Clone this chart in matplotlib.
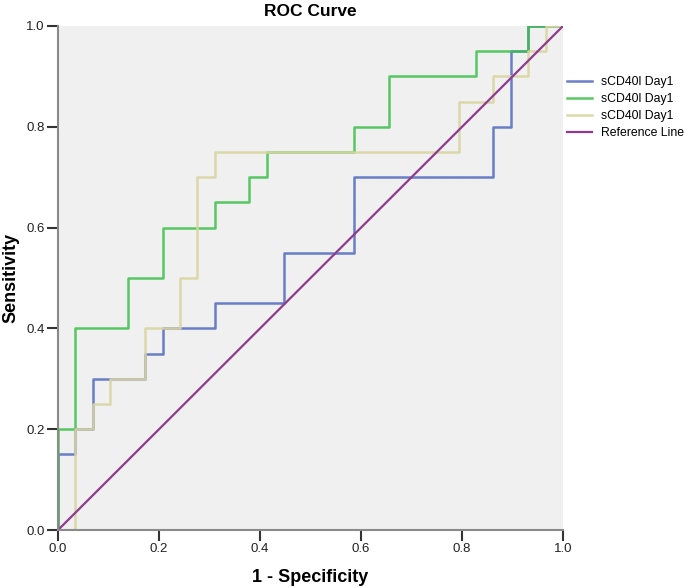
import matplotlib
matplotlib.use("Agg")
import matplotlib.pyplot as plt

plt.rcParams['font.family'] = ['Liberation Sans', 'DejaVu Sans']

# ROC points (1 - specificity, sensitivity)
fpr_blue = [0.0, 0.034, 0.069, 0.172, 0.207, 0.310, 0.448, 0.586, 0.862, 0.897, 0.931, 1.0]
tpr_blue = [0.0, 0.15, 0.20, 0.30, 0.35, 0.40, 0.45, 0.55, 0.70, 0.80, 0.95, 1.0]

fpr_green = [0.0, 0.034, 0.138, 0.207, 0.310, 0.379, 0.414, 0.586, 0.655, 0.828, 0.931, 1.0]
tpr_green = [0.0, 0.20, 0.40, 0.50, 0.60, 0.65, 0.70, 0.75, 0.80, 0.90, 0.95, 1.0]

fpr_beige = [0.0, 0.034, 0.069, 0.103, 0.172, 0.241, 0.276, 0.310, 0.793, 0.862, 0.931, 0.966, 1.0]
tpr_beige = [0.0, 0.0, 0.20, 0.25, 0.30, 0.40, 0.50, 0.70, 0.75, 0.85, 0.90, 0.95, 1.0]

ref_x = [0.0, 1.0]
ref_y = [0.0, 1.0]

labels = ["sCD40l Day1", "sCD40l Day1", "sCD40l Day1", "Reference Line"]
ticks = [0.0, 0.2, 0.4, 0.6, 0.8, 1.0]

fig = plt.figure(figsize=(6.85, 5.88), dpi=100)
ax = fig.add_axes([0.0847, 0.0986, 0.7373, 0.8572])
ax.set_facecolor('#f0f0f0')

ax.plot(fpr_blue, tpr_blue, drawstyle='steps-pre', color='#5068c0', lw=1.8, alpha=0.85, label=labels[0])
ax.plot(fpr_green, tpr_green, drawstyle='steps-pre', color='#3cc04c', lw=1.8, alpha=0.85, label=labels[1])
ax.plot(fpr_beige, tpr_beige, drawstyle='steps-pre', color='#d9d5a2', lw=1.8, alpha=0.9, label=labels[2])
ax.plot(ref_x, ref_y, color='#8e3b8e', lw=1.6, label=labels[3])

ax.set_xlim(0, 1)
ax.set_ylim(0, 1)
ax.set_xticks(ticks)
ax.set_yticks(ticks)
ax.set_xticklabels([f"{t:.1f}" for t in ticks], fontsize=9.5)
ax.set_yticklabels([f"{t:.1f}" for t in ticks], fontsize=9.5)
for s in ['top', 'right']:
    ax.spines[s].set_visible(False)
for s in ['left', 'bottom']:
    ax.spines[s].set_color('#8a8a8a')
    ax.spines[s].set_linewidth(1.5)
ax.tick_params(direction='out', length=8, width=1.5, color='#333333', labelcolor='#222222', pad=1.5)

ax.set_title("ROC Curve", fontsize=12.5, fontweight='bold', pad=7)
ax.set_xlabel("1 - Specificity", fontsize=13, fontweight='bold')
ax.set_ylabel("Sensitivity", fontsize=13, fontweight='bold')
ax.xaxis.set_label_coords(0.5, -0.078)
ax.yaxis.set_label_coords(-0.076, 0.5)

leg = fig.legend(loc='upper left', bbox_to_anchor=(567 / 685, 1 - 76 / 588), frameon=False,
                 fontsize=8.8, handlelength=2.05, handletextpad=0.74, labelspacing=0.42,
                 borderpad=0.0, borderaxespad=0.0)

fig.savefig("out.png", dpi=100)
